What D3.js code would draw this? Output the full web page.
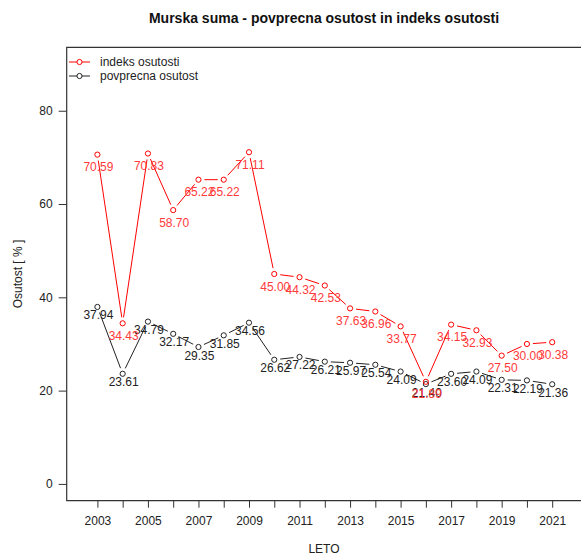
<!DOCTYPE html>
<html><head><meta charset="utf-8">
<script src="https://cdn.jsdelivr.net/npm/d3@7"></script>
<style>
body{margin:0;background:#fff;}
svg{display:block;font-family:"Liberation Sans",Arial,sans-serif;}
</style></head>
<body>
<svg id="chart" width="581" height="556"></svg>
<script>
const years = [2003,2004,2005,2006,2007,2008,2009,2010,2011,2012,2013,2014,2015,2016,2017,2018,2019,2020,2021];
const indeksOsutosti = [70.59,34.43,70.83,58.70,65.22,65.22,71.11,45.00,44.32,42.53,37.63,36.96,33.77,21.89,34.15,32.93,27.50,30.00,30.38];
const povprecnaOsutost = [37.94,23.61,34.79,32.17,29.35,31.85,34.56,26.62,27.22,26.21,25.97,25.54,24.09,21.40,23.60,24.09,22.31,22.19,21.36];
const yTicks = [0,20,40,60,80];
const xLabelYears = [2003,2005,2007,2009,2011,2013,2015,2017,2019,2021];
const title = "Murska suma - povprecna osutost in indeks osutosti";
const seriesNames = ["indeks osutosti","povprecna osutost"];

const svg = d3.select("#chart");
const L = 66.7, R = 582, T = 47.3, B = 500.7;

const x = d3.scaleLinear().domain([2003,2021]).range([97.4,552.2]);
const y = d3.scaleLinear().domain([-3.6,93.6]).range([B,T]);

// title
svg.append("text").attr("x",324).attr("y",23).attr("text-anchor","middle")
  .attr("font-weight","bold").attr("font-size","14px").attr("fill","#111").text(title);

// axes
const yAxis = d3.axisLeft(y).tickValues(yTicks).tickSize(8).tickPadding(6).tickFormat(d3.format("d"));
const gy = svg.append("g").attr("transform",`translate(${L},0)`).call(yAxis);
const xAxis = d3.axisBottom(x).tickValues(years).tickSize(7).tickPadding(9)
  .tickFormat(d => xLabelYears.includes(d) ? String(d) : "");
const gx = svg.append("g").attr("transform",`translate(0,${B})`).call(xAxis);
[gx,gy].forEach(g=>{
  g.select(".domain").remove();
  g.selectAll("line").attr("stroke","#333");
  g.selectAll("text").attr("font-size","12px").attr("fill","#222").attr("font-family","Liberation Sans, Arial, sans-serif");
});

// box (left, top, bottom)
svg.append("path").attr("d",`M${R},${T}H${L}V${B}H${R}`).attr("fill","none").attr("stroke","#333").attr("stroke-width",1.2);

// axis titles
svg.append("text").attr("x",324).attr("y",553).attr("text-anchor","middle").attr("font-size","12px").attr("fill","#222").text("LETO");
svg.append("text").attr("transform","translate(22,274) rotate(-90)").attr("text-anchor","middle").attr("font-size","12px").attr("fill","#222").text("Osutost [ % ]");

function drawSeries(vals, lineColor, labelColor, labelOffset){
  const pts = years.map((yr,i)=>[x(yr), y(vals[i])]);
  const gap = 6;
  const g = svg.append("g");
  for(let i=0;i<pts.length-1;i++){
    const [x1,y1]=pts[i],[x2,y2]=pts[i+1];
    const dx=x2-x1, dy=y2-y1, len=Math.hypot(dx,dy);
    if(len<=2*gap) continue;
    const ux=dx/len, uy=dy/len;
    g.append("line").attr("x1",x1+ux*gap).attr("y1",y1+uy*gap).attr("x2",x2-ux*gap).attr("y2",y2-uy*gap)
      .attr("stroke",lineColor).attr("stroke-width",1);
  }
  g.selectAll("circle").data(pts).enter().append("circle")
    .attr("cx",d=>d[0]).attr("cy",d=>d[1]).attr("r",2.6)
    .attr("fill","none").attr("stroke",lineColor).attr("stroke-width",1);
  g.selectAll("text").data(vals).enter().append("text")
    .attr("x",(d,i)=>x(years[i])+1).attr("y",(d,i)=>y(d)+labelOffset)
    .attr("text-anchor","middle").attr("dominant-baseline","central")
    .attr("font-size","12px").attr("fill",labelColor).text(d=>d.toFixed(2));
}
drawSeries(povprecnaOsutost, "#222", "#222", 8.5);
drawSeries(indeksOsutosti, "#ff0000", "#ff3a3a", 12.5);

// legend
const legend = [[seriesNames[0],"#ff0000",62],[seriesNames[1],"#222",76]];
legend.forEach(([name,col,ly])=>{
  svg.append("line").attr("x1",69).attr("x2",90).attr("y1",ly).attr("y2",ly).attr("stroke",col);
  svg.append("circle").attr("cx",79.5).attr("cy",ly).attr("r",2.6).attr("fill","white").attr("stroke",col);
  svg.append("text").attr("x",100).attr("y",ly).attr("dominant-baseline","central").attr("font-size","12px").attr("fill","#222").text(name);
});
</script>
</body></html>
